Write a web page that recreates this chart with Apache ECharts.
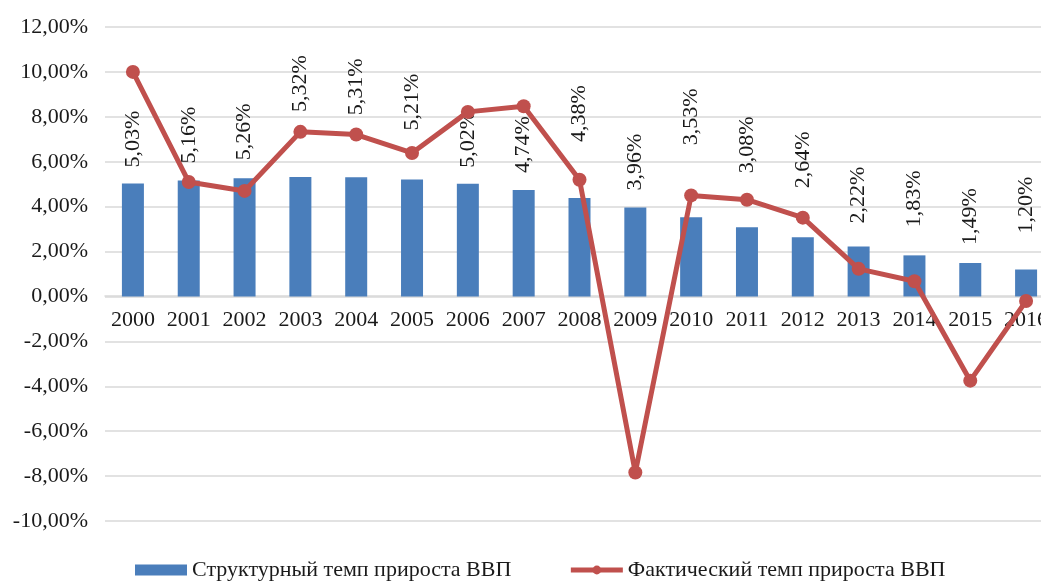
<!DOCTYPE html>
<html>
<head>
<meta charset="utf-8">
<script src="https://cdn.jsdelivr.net/npm/echarts@6/dist/echarts.min.js"></script>
<style>
html,body{margin:0;padding:0;background:#fff;overflow:hidden;}
#chart{width:1041px;height:581px;}
</style>
</head>
<body>
<div id="chart"></div>
<script>
const years = ['2000','2001','2002','2003','2004','2005','2006','2007','2008','2009','2010','2011','2012','2013','2014','2015','2016'];
const structural = [5.03,5.16,5.26,5.32,5.31,5.21,5.02,4.74,4.38,3.96,3.53,3.08,2.64,2.22,1.83,1.49,1.20];
const actual = [10.0,5.1,4.7,7.33,7.21,6.39,8.22,8.47,5.2,-7.84,4.5,4.31,3.51,1.23,0.68,-3.75,-0.2];
const seriesNames = ['Структурный темп прироста ВВП','Фактический темп прироста ВВП'];
// label placement (gap above each bar, in px), as hand-placed in the original
const labelLift = [16,17,18,65,62,49,16,17,56,17,72,54,49,23,28,18,36];

const fmt = v => v.toFixed(2).replace('.', ',') + '%';
const FONT = 'Liberation Serif';
const FS = 22;
const TXT = '#1a1a1a';
const chart = echarts.init(document.getElementById('chart'));
const barData = structural.map((v, i) => ({value: v, label: {distance: labelLift[i]}}));
chart.setOption({
  animation: false,
  backgroundColor: '#ffffff',
  grid: {left: 105, right: -13, top: 27, bottom: 60, containLabel: false, outerBoundsMode: 'none'},
  legend: {
    data: [
      {name: seriesNames[0], icon: 'rect'},
      {name: seriesNames[1], lineStyle: {width: 5}}
    ],
    left: 135, bottom: 0, padding: 0,
    itemGap: 57,
    itemWidth: 52, itemHeight: 11,
    textStyle: {fontFamily: FONT, fontSize: FS, color: TXT}
  },
  xAxis: {
    type: 'category',
    data: years,
    offset: -225,
    axisLine: {show: true, onZero: false, lineStyle: {color: '#d9d9d9', width: 1.5}},
    axisTick: {show: false},
    axisLabel: {fontFamily: FONT, fontSize: FS, color: TXT, margin: 13, interval: 0}
  },
  yAxis: {
    type: 'value',
    min: -10, max: 12, interval: 2,
    axisLine: {show: false},
    axisTick: {show: false},
    splitLine: {lineStyle: {color: '#d9d9d9', width: 1.5}},
    axisLabel: {fontFamily: FONT, fontSize: FS, color: TXT, margin: 17, formatter: fmt}
  },
  series: [
    {
      name: seriesNames[0],
      type: 'bar',
      data: barData,
      barWidth: 22,
      itemStyle: {color: '#4a7ebb'},
      label: {
        show: true, position: 'top', rotate: 90,
        align: 'left', verticalAlign: 'middle',
        fontFamily: FONT, fontSize: FS, color: TXT,
        formatter: p => fmt(p.value)
      },
      z: 2
    },
    {
      name: seriesNames[1],
      type: 'line',
      data: actual,
      symbol: 'circle', symbolSize: 14,
      lineStyle: {color: '#c0504d', width: 5},
      itemStyle: {color: '#c0504d'},
      z: 3
    }
  ]
});
</script>
</body>
</html>
